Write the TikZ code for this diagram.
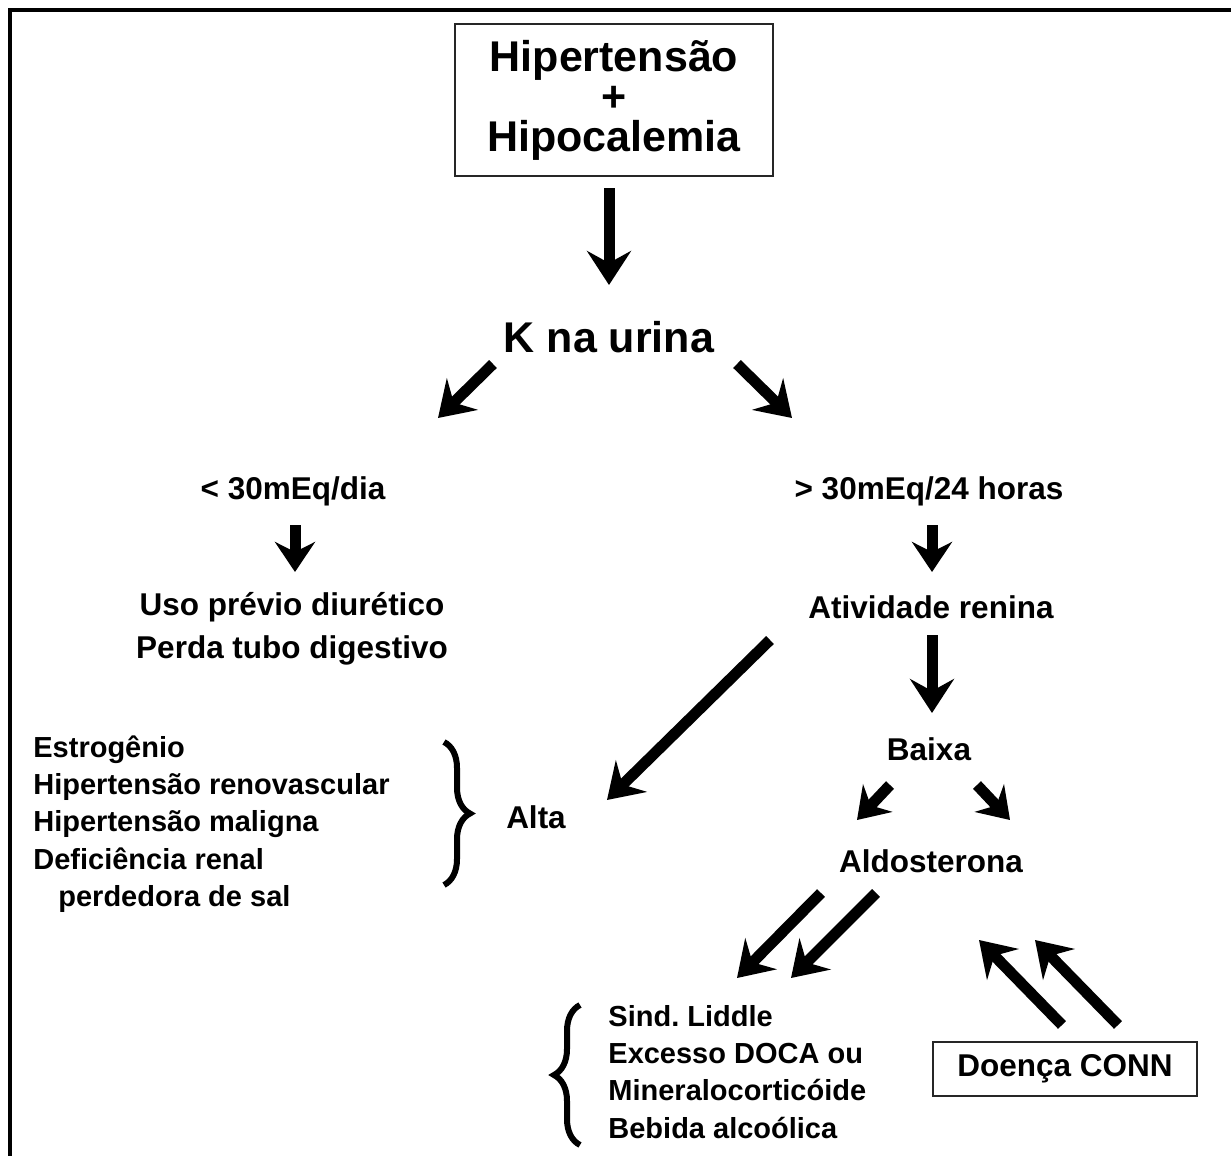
\documentclass[tikz,border=0pt]{standalone}
\usepackage{fontspec}
\setmainfont{Liberation Sans}
\usetikzlibrary{positioning, arrows.meta, decorations.pathreplacing}
\tikzstyle{Arrow} = [
%Heavy block arrow:
line width=5.5pt,
-{Stealth[length=17pt, width=22pt, inset=6pt]}
]
\tikzstyle{SmallArrow} = [
line width=5.5pt,
-{Stealth[length=15pt, width=20pt, inset=5pt]}
]

\begin{document}
\begin{tikzpicture}[x=0.5pt, y=-0.5pt,
			box/.style = {rectangle, draw=black!85, line width=1pt, align=center},
			big/.style = {font=\fontsize{21.5}{20}\selectfont\bfseries, align=center, inner sep=0pt},
			txt/.style = {font=\fontsize{15.75}{21.5}\selectfont\bfseries, align=center, inner sep=0pt},
			causes/.style = {font=\fontsize{14.5}{18.6}\selectfont\bfseries, align=left, inner sep=0pt, anchor=west},
			Brace/.style = {decorate, decoration={brace, amplitude=13pt}, line width=3pt},
		]
		\useasboundingbox (0,0) rectangle (1231,1156);
		\draw[line width=2pt] (10,1156) -- (10,10) -- (1231,10);

		\node[box, big, minimum width=159pt, minimum height=76pt] (HH) at (614,100) {Hipertensão\\+\\Hipocalemia};
		\node[big] (KU) at (609,337) {K na urina};
		\node[txt] (Low) at (293,491) {< 30mEq/dia};
		\node[txt] (High) at (929,491) {> 30mEq/24 horas};
		\node[txt] (Diur) at (292,629) {Uso prévio diurético\\Perda tubo digestivo};
		\node[txt] (Ren) at (931,607) {Atividade renina};
		\node[txt] (Baixa) at (929,749) {Baixa};
		\node[txt] (Aldo) at (931,861) {Aldosterona};
		\node[txt] (Alta) at (536,817) {Alta};
		\node[causes] (AltaList) at (33,824) {Estrogênio\\Hipertensão renovascular\\Hipertensão maligna\\Deficiência renal\\\hspace*{12.5pt}perdedora de sal};
		\node[causes] (AldoList) at (608,1072) {Sind.\ Liddle\\Excesso DOCA ou\\Mineralocorticóide\\Bebida alcoólica};
		\node[box, txt, minimum width=132pt, minimum height=27pt] (Conn) at (1065,1069) {Doença CONN};

		% arrow ends
		\coordinate (HHs) at (609,188);   \coordinate (HHe) at (609,285);
		\coordinate (KUl) at (493,364);   \coordinate (Lowt) at (438,418);
		\coordinate (KUr) at (737,364);   \coordinate (Hight) at (792,418);
		\coordinate (Lows) at (295,525);  \coordinate (Lowe) at (295,572);
		\coordinate (Highs) at (932,525); \coordinate (Highe) at (932,572);
		\coordinate (Renl) at (770,640);  \coordinate (Altat) at (607,800);
		\coordinate (Rens) at (932,635);  \coordinate (Rene) at (932,713);
		\coordinate (Bl) at (890,785);    \coordinate (Blt) at (857,820);
		\coordinate (Br) at (977,785);    \coordinate (Brt) at (1010,820);
		\coordinate (A1) at (821,893);    \coordinate (A1t) at (737,978);
		\coordinate (A2) at (876,893);    \coordinate (A2t) at (791,978);
		\coordinate (C1) at (1062,1025);  \coordinate (C1t) at (979,940);
		\coordinate (C2) at (1118,1025);  \coordinate (C2t) at (1035,940);

		\draw[Arrow](HHs)--(HHe);
		\draw[Arrow](KUl)--(Lowt);
		\draw[Arrow](KUr)--(Hight);
		\draw[SmallArrow](Lows)--(Lowe);
		\draw[SmallArrow](Highs)--(Highe);
		\draw[Arrow](Renl)--(Altat);
		\draw[Arrow](Rens)--(Rene);
		\draw[SmallArrow](Bl)--(Blt);
		\draw[SmallArrow](Br)--(Brt);
		\draw[Arrow](A1)--(A1t);
		\draw[Arrow](A2)--(A2t);
		\draw[Arrow](C1)--(C1t);
		\draw[Arrow](C2)--(C2t);

		\draw[Brace](444,742)--(444,885);
		\draw[Brace](580,1145)--(580,1005);
	\end{tikzpicture}
\end{document}
